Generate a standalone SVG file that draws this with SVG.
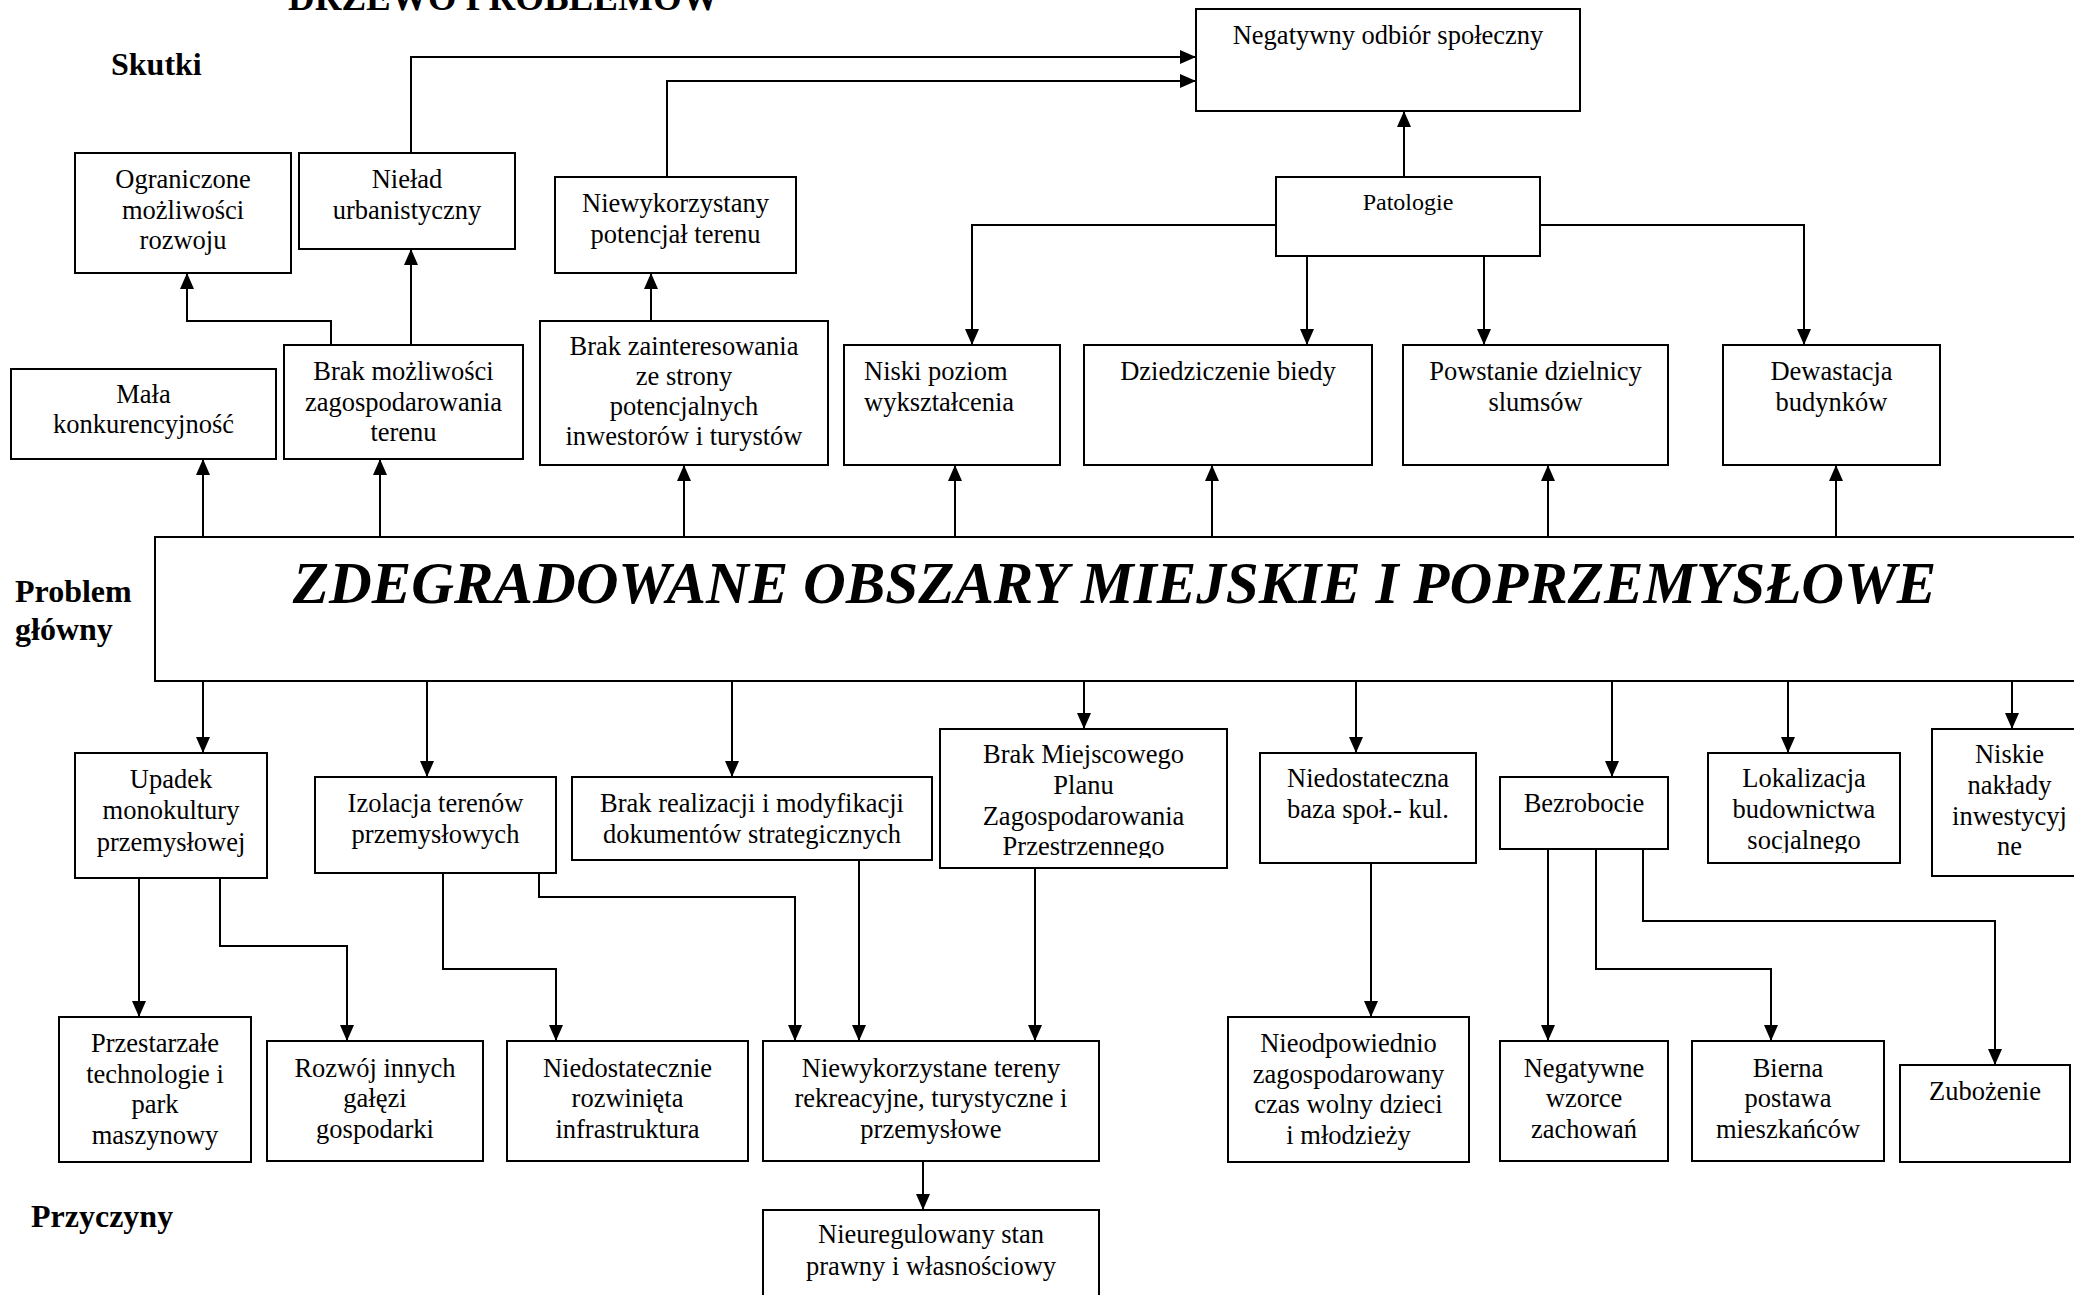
<svg xmlns="http://www.w3.org/2000/svg" width="2074" height="1295" viewBox="0 0 2074 1295">
<style>
.box{fill:#fff;stroke:#000;stroke-width:2}
.t{font-family:"Liberation Serif","Times New Roman",serif;font-size:26.5px;text-anchor:middle;fill:#000}
.tl{text-anchor:start}
.sm{font-size:24px}
.lbl{font-family:"Liberation Serif","Times New Roman",serif;font-size:32px;font-weight:bold;fill:#000}
.main{font-family:"Liberation Serif","Times New Roman",serif;font-size:59.2px;font-weight:bold;font-style:italic;text-anchor:middle;fill:#000}
.c{fill:none;stroke:#000;stroke-width:2;marker-end:url(#ah)}
</style>
<defs>
<marker id="ah" markerUnits="userSpaceOnUse" markerWidth="16" markerHeight="14" refX="16" refY="7" orient="auto">
<path d="M0,0 L16,7 L0,14 z" fill="#000"/>
</marker>
<clipPath id="clip-mpzp"><rect x="940" y="729" width="287" height="129"/></clipPath>
<clipPath id="clip-lok"><rect x="1708" y="753" width="192" height="100"/></clipPath>
</defs>
<rect width="2074" height="1295" fill="#fff"/>

<g id="labels">
<text class="lbl" x="288" y="10" style="font-size:37px">DRZEWO PROBLEMÓW</text>
<text class="lbl" x="111" y="75">Skutki</text>
<text class="lbl" x="15" y="602">Problem</text>
<text class="lbl" x="15" y="640">główny</text>
<text class="lbl" x="31" y="1227">Przyczyny</text>
</g>

<g id="connectors">
<path class="c" d="M411,153 V57 H1196"/>
<path class="c" d="M667,177 V81 H1196"/>
<path class="c" d="M1404,177 V111"/>
<path class="c" d="M1276,225 H972 V345"/>
<path class="c" d="M1540,225 H1804 V345"/>
<path class="c" d="M1307,256 V345"/>
<path class="c" d="M1484,256 V345"/>
<path class="c" d="M331,345 V321 H187 V273"/>
<path class="c" d="M411,345 V249"/>
<path class="c" d="M651,321 V273"/>
<path class="c" d="M203,537 V459"/>
<path class="c" d="M380,537 V459"/>
<path class="c" d="M684,537 V465"/>
<path class="c" d="M955,537 V465"/>
<path class="c" d="M1212,537 V465"/>
<path class="c" d="M1548,537 V465"/>
<path class="c" d="M1836,537 V465"/>
<path class="c" d="M203,681 V753"/>
<path class="c" d="M427,681 V777"/>
<path class="c" d="M732,681 V777"/>
<path class="c" d="M1084,681 V729"/>
<path class="c" d="M1356,681 V753"/>
<path class="c" d="M1612,681 V777"/>
<path class="c" d="M1788,681 V753"/>
<path class="c" d="M2012,681 V729"/>
<path class="c" d="M139,878 V1017"/>
<path class="c" d="M220,878 V946 H347 V1041"/>
<path class="c" d="M443,873 V969 H556 V1041"/>
<path class="c" d="M539,873 V897 H795 V1041"/>
<path class="c" d="M859,860 V1041"/>
<path class="c" d="M1035,868 V1041"/>
<path class="c" d="M923,1162 V1210"/>
<path class="c" d="M1371,863 V1017"/>
<path class="c" d="M1548,849 V1041"/>
<path class="c" d="M1596,849 V969 H1771 V1041"/>
<path class="c" d="M1643,849 V921 H1995 V1065"/>
</g>

<g id="n-negatywny"><rect class="box" x="1196" y="9" width="384" height="102"/>
<text class="t" x="1388" y="44">Negatywny odbiór społeczny</text></g>

<g id="n-patologie"><rect class="box" x="1276" y="177" width="264" height="79"/>
<text class="t sm" x="1408" y="210">Patologie</text></g>

<g id="n-ograniczone"><rect class="box" x="75" y="153" width="216" height="120"/>
<text class="t" x="183"><tspan x="183" y="188">Ograniczone</tspan><tspan x="183" y="218.5">możliwości</tspan><tspan x="183" y="249">rozwoju</tspan></text></g>

<g id="n-nielad"><rect class="box" x="299" y="153" width="216" height="96"/>
<text class="t" x="407"><tspan x="407" y="188">Nieład</tspan><tspan x="407" y="219">urbanistyczny</tspan></text></g>

<g id="n-niewykorzystany"><rect class="box" x="555" y="177" width="241" height="96"/>
<text class="t" x="675.5"><tspan x="675.5" y="212">Niewykorzystany</tspan><tspan x="675.5" y="243">potencjał terenu</tspan></text></g>

<g id="n-mala"><rect class="box" x="11" y="369" width="265" height="90"/>
<text class="t" x="143.5"><tspan x="143.5" y="403">Mała</tspan><tspan x="143.5" y="433">konkurencyjność</tspan></text></g>

<g id="n-brak-mozliwosci"><rect class="box" x="284" y="345" width="239" height="114"/>
<text class="t" x="403.5"><tspan x="403.5" y="380">Brak możliwości</tspan><tspan x="403.5" y="410.5">zagospodarowania</tspan><tspan x="403.5" y="441">terenu</tspan></text></g>

<g id="n-brak-zainteresowania"><rect class="box" x="540" y="321" width="288" height="144"/>
<text class="t" x="684"><tspan x="684" y="355">Brak zainteresowania</tspan><tspan x="684" y="385">ze strony</tspan><tspan x="684" y="415">potencjalnych</tspan><tspan x="684" y="445">inwestorów i turystów</tspan></text></g>

<g id="n-niski-poziom"><rect class="box" x="844" y="345" width="216" height="120"/>
<text class="t tl" x="864"><tspan x="864" y="380">Niski poziom</tspan><tspan x="864" y="411">wykształcenia</tspan></text></g>

<g id="n-dziedziczenie"><rect class="box" x="1084" y="345" width="288" height="120"/>
<text class="t" x="1228" y="380">Dziedziczenie biedy</text></g>

<g id="n-powstanie"><rect class="box" x="1403" y="345" width="265" height="120"/>
<text class="t" x="1535.5"><tspan x="1535.5" y="380">Powstanie dzielnicy</tspan><tspan x="1535.5" y="411">slumsów</tspan></text></g>

<g id="n-dewastacja"><rect class="box" x="1723" y="345" width="217" height="120"/>
<text class="t" x="1831.5"><tspan x="1831.5" y="380">Dewastacja</tspan><tspan x="1831.5" y="411">budynków</tspan></text></g>

<g id="n-main"><rect class="box" x="155" y="537" width="1940" height="144"/>
<text class="main" x="1114.5" y="603">ZDEGRADOWANE OBSZARY MIEJSKIE I POPRZEMYSŁOWE</text></g>

<g id="n-upadek"><rect class="box" x="75" y="753" width="192" height="125"/>
<text class="t" x="171"><tspan x="171" y="787.5">Upadek</tspan><tspan x="171" y="819">monokultury</tspan><tspan x="171" y="850.5">przemysłowej</tspan></text></g>

<g id="n-izolacja"><rect class="box" x="315" y="777" width="241" height="96"/>
<text class="t" x="435.5"><tspan x="435.5" y="811.5">Izolacja terenów</tspan><tspan x="435.5" y="843">przemysłowych</tspan></text></g>

<g id="n-brak-realizacji"><rect class="box" x="572" y="777" width="360" height="83"/>
<text class="t" x="752"><tspan x="752" y="811.5">Brak realizacji i modyfikacji</tspan><tspan x="752" y="842.5">dokumentów strategicznych</tspan></text></g>

<g id="n-brak-mpzp"><rect class="box" x="940" y="729" width="287" height="139"/>
<text class="t" x="1083.5" clip-path="url(#clip-mpzp)"><tspan x="1083.5" y="762.5">Brak Miejscowego</tspan><tspan x="1083.5" y="793.5">Planu</tspan><tspan x="1083.5" y="824.5">Zagospodarowania</tspan><tspan x="1083.5" y="855">Przestrzennego</tspan></text></g>

<g id="n-niedostateczna-baza"><rect class="box" x="1260" y="753" width="216" height="110"/>
<text class="t" x="1368"><tspan x="1368" y="787">Niedostateczna</tspan><tspan x="1368" y="818">baza społ.- kul.</tspan></text></g>

<g id="n-bezrobocie"><rect class="box" x="1500" y="777" width="168" height="72"/>
<text class="t" x="1584" y="811.5">Bezrobocie</text></g>

<g id="n-lokalizacja"><rect class="box" x="1708" y="753" width="192" height="110"/>
<text class="t" x="1804" clip-path="url(#clip-lok)"><tspan x="1804" y="787">Lokalizacja</tspan><tspan x="1804" y="818">budownictwa</tspan><tspan x="1804" y="849">socjalnego</tspan></text></g>

<g id="n-niskie-naklady"><rect class="box" x="1932" y="729" width="155" height="147"/>
<text class="t" x="2009.5"><tspan x="2009.5" y="763">Niskie</tspan><tspan x="2009.5" y="793.5">nakłady</tspan><tspan x="2009.5" y="824.5">inwestycyj</tspan><tspan x="2009.5" y="855">ne</tspan></text></g>

<g id="n-przestarzale"><rect class="box" x="59" y="1017" width="192" height="145"/>
<text class="t" x="155"><tspan x="155" y="1051.5">Przestarzałe</tspan><tspan x="155" y="1082.5">technologie i</tspan><tspan x="155" y="1113">park</tspan><tspan x="155" y="1143.5">maszynowy</tspan></text></g>

<g id="n-rozwoj"><rect class="box" x="267" y="1041" width="216" height="120"/>
<text class="t" x="375"><tspan x="375" y="1076.5">Rozwój innych</tspan><tspan x="375" y="1107">gałęzi</tspan><tspan x="375" y="1137.5">gospodarki</tspan></text></g>

<g id="n-niedostatecznie-infra"><rect class="box" x="507" y="1041" width="241" height="120"/>
<text class="t" x="627.5"><tspan x="627.5" y="1076.5">Niedostatecznie</tspan><tspan x="627.5" y="1107">rozwinięta</tspan><tspan x="627.5" y="1137.5">infrastruktura</tspan></text></g>

<g id="n-niewykorzystane-tereny"><rect class="box" x="763" y="1041" width="336" height="120"/>
<text class="t" x="931"><tspan x="931" y="1076.5">Niewykorzystane tereny</tspan><tspan x="931" y="1107">rekreacyjne, turystyczne i</tspan><tspan x="931" y="1137.5">przemysłowe</tspan></text></g>

<g id="n-nieuregulowany"><rect class="box" x="763" y="1210" width="336" height="100"/>
<text class="t" x="931"><tspan x="931" y="1243">Nieuregulowany stan</tspan><tspan x="931" y="1274.5">prawny i własnościowy</tspan></text></g>

<g id="n-nieodpowiednio"><rect class="box" x="1228" y="1017" width="241" height="145"/>
<text class="t" x="1348.5"><tspan x="1348.5" y="1051.5">Nieodpowiednio</tspan><tspan x="1348.5" y="1082.5">zagospodarowany</tspan><tspan x="1348.5" y="1113">czas wolny dzieci</tspan><tspan x="1348.5" y="1143.5">i młodzieży</tspan></text></g>

<g id="n-negatywne-wzorce"><rect class="box" x="1500" y="1041" width="168" height="120"/>
<text class="t" x="1584"><tspan x="1584" y="1076.5">Negatywne</tspan><tspan x="1584" y="1107">wzorce</tspan><tspan x="1584" y="1137.5">zachowań</tspan></text></g>

<g id="n-bierna"><rect class="box" x="1692" y="1041" width="192" height="120"/>
<text class="t" x="1788"><tspan x="1788" y="1076.5">Bierna</tspan><tspan x="1788" y="1107">postawa</tspan><tspan x="1788" y="1137.5">mieszkańców</tspan></text></g>

<g id="n-zubozenie"><rect class="box" x="1900" y="1065" width="170" height="97"/>
<text class="t" x="1985" y="1100">Zubożenie</text></g>
</svg>
